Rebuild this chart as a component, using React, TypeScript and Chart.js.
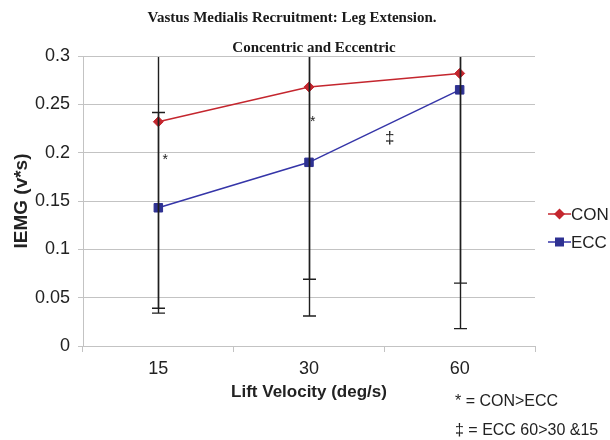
import React, { useEffect, useRef } from 'react';
import { Chart, registerables } from 'chart.js';

Chart.register(...registerables);

const SANS = '"Liberation Sans", Arial, sans-serif';
const SERIF = '"Liberation Serif", "Times New Roman", serif';

// ---- data ----
const categories = ['15', '30', '60'];
const conValues = [0.232, 0.268, 0.282];
const eccValues = [0.143, 0.19, 0.265];
const conErrLow = [0.034, 0.069, 0.065];
const conErrHigh = [0.43, 0.47, 0.5];
const eccErrLow = [0.039, 0.031, 0.018];
const eccErrHigh = [0.2415, 0.35, 0.51];
const yTicks = [0, 0.05, 0.1, 0.15, 0.2, 0.25, 0.3];
const titleLines = ['Vastus Medialis Recruitment: Leg Extension.', 'Concentric and Eccentric'];
const noteLines = ['* = CON>ECC', '\u2021 = ECC 60>30 &15'];
const markLabels = ['*', '*', '\u2021'];
const markIndex = [0.045, 1.025, 1.535];
const markValue = [0.195, 0.235, 0.215];

const CON_COLOR = '#c4262e';
const ECC_COLOR = '#2e3192';
const GRID = '#c3c3c3';

export default function App() {
  const ref = useRef<HTMLCanvasElement>(null);

  useEffect(() => {
    document.body.style.margin = '0';
    const canvas = ref.current!;

    const errorBars = {
      id: 'errorBars',
      afterDatasetsDraw(chart: any) {
        const { ctx, chartArea, scales } = chart;
        const x = scales.x;
        const y = scales.y;
        ctx.save();
        ctx.beginPath();
        ctx.rect(chartArea.left, chartArea.top + 1, chartArea.right - chartArea.left, chartArea.bottom - chartArea.top);
        ctx.clip();
        ctx.strokeStyle = '#1e1e1e';
        ctx.lineWidth = 1.4;
        const sets = [
          { low: conErrLow, high: conErrHigh },
          { low: eccErrLow, high: eccErrHigh },
        ];
        sets.forEach(({ low, high }) => {
          categories.forEach((_, i) => {
            const px = Math.round(x.getPixelForValue(i)) + 0.5;
            const yl = y.getPixelForValue(low[i]);
            const yh = y.getPixelForValue(high[i]);
            ctx.beginPath();
            ctx.moveTo(px, yl);
            ctx.lineTo(px, yh);
            ctx.moveTo(px - 6.5, yl);
            ctx.lineTo(px + 6.5, yl);
            ctx.moveTo(px - 6.5, yh);
            ctx.lineTo(px + 6.5, yh);
            ctx.stroke();
          });
        });
        ctx.restore();
      },
    };

    const overlay = {
      id: 'overlay',
      afterDraw(chart: any) {
        const { ctx, scales } = chart;
        const x = scales.x;
        const y = scales.y;
        ctx.save();
        // title
        ctx.fillStyle = '#1a1a1a';
        ctx.font = `bold 15px ${SERIF}`;
        ctx.textAlign = 'center';
        ctx.textBaseline = 'middle';
        ctx.fillText(titleLines[0], 292, 18);
        ctx.fillText(titleLines[1], 314, 48);

        // significance marks
        ctx.fillStyle = '#222';
        markLabels.forEach((t, i) => {
          ctx.font = t === '*' ? `14px ${SANS}` : `17px ${SANS}`;
          ctx.fillText(t, x.getPixelForValue(markIndex[i]), y.getPixelForValue(markValue[i]) + (t === '*' ? 3 : 0));
        });

        // legend
        const ds = chart.data.datasets;
        const legendY = [214, 242];
        ds.forEach((d: any, i: number) => {
          const ly = legendY[i];
          ctx.strokeStyle = d.borderColor;
          ctx.lineWidth = 1.5;
          ctx.beginPath();
          ctx.moveTo(548, ly);
          ctx.lineTo(571, ly);
          ctx.stroke();
          ctx.fillStyle = d.pointBackgroundColor;
          ctx.beginPath();
          if (d.pointStyle === 'rectRot') {
            const r = 5.5;
            ctx.moveTo(559.5, ly - r);
            ctx.lineTo(559.5 + r, ly);
            ctx.lineTo(559.5, ly + r);
            ctx.lineTo(559.5 - r, ly);
            ctx.closePath();
          } else {
            ctx.rect(555, ly - 4.5, 9, 9);
          }
          ctx.fill();
          ctx.fillStyle = '#222';
          ctx.font = `17px ${SANS}`;
          ctx.textAlign = 'left';
          ctx.textBaseline = 'middle';
          ctx.fillText(d.label, 571, ly + 1);
        });

        // notes
        ctx.font = `16px ${SANS}`;
        ctx.fillStyle = '#222';
        ctx.textAlign = 'left';
        ctx.fillText(noteLines[0], 455, 402);
        ctx.fillText(noteLines[1], 455, 431);
        ctx.restore();
      },
    };

    const chart = new Chart(canvas, {
      type: 'line',
      data: {
        labels: categories,
        datasets: [
          {
            label: 'CON',
            data: conValues,
            borderColor: CON_COLOR,
            backgroundColor: CON_COLOR,
            pointBackgroundColor: CON_COLOR,
            pointBorderColor: CON_COLOR,
            pointStyle: 'rectRot',
            pointRadius: 5,
            pointBorderWidth: 1,
            borderWidth: 1.5,
            tension: 0,
          },
          {
            label: 'ECC',
            data: eccValues,
            borderColor: '#3535a8',
            backgroundColor: ECC_COLOR,
            pointBackgroundColor: ECC_COLOR,
            pointBorderColor: ECC_COLOR,
            pointStyle: 'rect',
            pointRadius: 6,
            pointBorderWidth: 1,
            borderWidth: 1.5,
            tension: 0,
          },
        ],
      },
      options: {
        responsive: false,
        animation: false,
        layout: { padding: { top: 56, right: 75, bottom: 0, left: 0 } },
        plugins: {
          legend: { display: false },
          title: { display: false },
          tooltip: { enabled: false },
        },
        scales: {
          x: {
            type: 'category',
            offset: true,
            grid: { drawOnChartArea: false, offset: true, tickLength: 6, color: GRID, lineWidth: 1 },
            border: { color: GRID, width: 1 },
            ticks: { color: '#222', font: { family: SANS, size: 18 }, padding: 6 },
            title: {
              display: true,
              text: 'Lift Velocity (deg/s)',
              color: '#222',
              font: { family: SANS, size: 17, weight: 'bold' },
              padding: { top: 0, bottom: 37 },
            },
            afterFit: (s: any) => {
              s.height = 94;
            },
          },
          y: {
            min: 0,
            max: 0.3,
            afterBuildTicks: (s: any) => {
              s.ticks = yTicks.map((v) => ({ value: v }));
            },
            grid: { color: GRID, lineWidth: 1, tickLength: 5 },
            border: { color: GRID, width: 1 },
            ticks: {
              color: '#222',
              font: { family: SANS, size: 18 },
              padding: 8,
              callback: (v: any) => String(+Number(v).toFixed(2)),
            },
            title: {
              display: true,
              text: 'IEMG (v*s)',
              color: '#222',
              font: { family: SANS, size: 19, weight: 'bold' },
              padding: { top: 10, bottom: 0 },
            },
            afterFit: (s: any) => {
              s.width = 83;
            },
          },
        },
      },
      plugins: [errorBars, overlay],
    });
    return () => chart.destroy();
  }, []);

  return (
    <div style={{ width: 610, height: 440 }}>
      <canvas ref={ref} width={610} height={440} style={{ display: 'block' }} />
    </div>
  );
}
